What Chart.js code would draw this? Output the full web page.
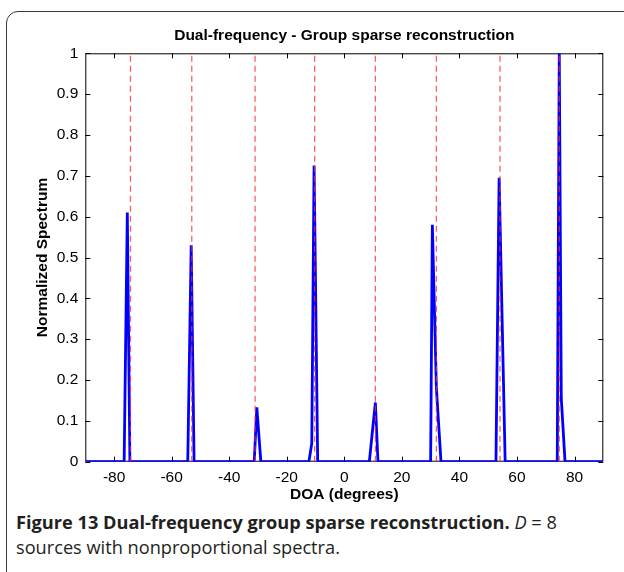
<!DOCTYPE html>
<html>
<head>
<meta charset="utf-8">
<script src="https://cdn.jsdelivr.net/npm/chart.js@4.4.1/dist/chart.umd.min.js"></script>
<style>
  html, body { margin: 0; padding: 0; background: #fff; overflow: hidden; }
  body { width: 624px; height: 572px; position: relative; }
  #frame {
    position: absolute; left: 6px; top: 11px; width: 660px; height: 620px;
    border: 1.5px solid #3a3a3a; border-radius: 12px; box-sizing: border-box;
  }
  #plot { position: absolute; left: 0; top: 0; }
  #caption {
    position: absolute; left: 16px; top: 510px; width: 600px;
    font-family: "Open Sans", "Noto Sans", sans-serif; font-size: 18.2px;
    line-height: 25px; color: #231f20; white-space: nowrap;
  }
</style>
</head>
<body>
<div id="frame"></div>
<canvas id="plot" width="624" height="505"></canvas>
<div id="caption"><b>Figure 13 Dual-frequency group sparse reconstruction.</b> <i>D</i> = 8<br>sources with nonproportional spectra.</div>
<script>
// reconstructed spectrum (DOA in degrees, normalized)
const doa = [-90, -76.5, -75.4, -74.5, -54.4, -53.2, -52.2, -31.3, -30.4, -29,
  -12.3, -11.3, -10.5, -9.25, 8.7, 10.8, 11.7, 30, 30.6, 32, 33.6,
  52.7, 53.8, 55.9, 74, 74.7, 75.4, 76.7, 90];
const spectrum = [0, 0, 0.61, 0, 0, 0.53, 0, 0, 0.133, 0,
  0, 0.045, 0.725, 0, 0, 0.145, 0, 0, 0.58, 0.18, 0,
  0, 0.695, 0, 0, 1, 0.155, 0, 0];

// true source directions
const trueDoa = [-74.3, -53, -31, -10.3, 10.8, 32, 54.1, 74.7];

const xTicks = [-80, -60, -40, -20, 0, 20, 40, 60, 80];

// matlab style box with ticks pointing inwards
const boxPlugin = {
  id: 'box',
  beforeDatasetsDraw(chart) {
    const ctx = chart.ctx;
    const a = chart.chartArea;
    const xs = chart.scales.x;
    const ys = chart.scales.y;
    const len = 5;
    ctx.save();
    ctx.strokeStyle = '#000';
    ctx.lineWidth = 1;
    ctx.beginPath();
    ctx.rect(a.left + 0.5, a.top + 0.5, a.right - a.left - 1, a.bottom - a.top - 1);
    xs.ticks.forEach(t => {
      const px = Math.round(xs.getPixelForValue(t.value)) + 0.5;
      ctx.moveTo(px, a.bottom);
      ctx.lineTo(px, a.bottom - len);
      ctx.moveTo(px, a.top);
      ctx.lineTo(px, a.top + len);
    });
    ys.ticks.forEach(t => {
      const py = Math.round(ys.getPixelForValue(t.value)) + 0.5;
      ctx.moveTo(a.left, py);
      ctx.lineTo(a.left + len, py);
      ctx.moveTo(a.right, py);
      ctx.lineTo(a.right - len, py);
    });
    ctx.stroke();
    ctx.restore();
  }
};

let datasets = [];
trueDoa.forEach(d => {
  datasets.push({
    data: [{x: d, y: 0}, {x: d, y: 1}],
    borderColor: 'rgba(255, 40, 40, 0.75)',
    borderWidth: 1.3,
    borderDash: [6, 4],
    order: 0
  });
});
datasets.push({
  data: doa.map((x, i) => ({x: x, y: spectrum[i]})),
  borderColor: '#0000ff',
  borderWidth: 2.8,
  order: 1
});

const tickFont = {family: '"Liberation Sans", Arial, sans-serif', size: 15.5};
const labelFont = {family: '"Liberation Sans", Arial, sans-serif', size: 15.5, weight: 'bold'};

new Chart(document.getElementById('plot'), {
  type: 'scatter',
  data: {datasets: datasets},
  plugins: [boxPlugin],
  options: {
    responsive: false,
    animation: false,
    showLine: true,
    layout: {padding: {left: 20, right: 20.7, top: 20, bottom: 0}},
    elements: {
      point: {radius: 0, hoverRadius: 0},
      line: {tension: 0, borderJoinStyle: 'miter'}
    },
    plugins: {
      legend: {display: false},
      tooltip: {enabled: false},
      title: {
        display: true,
        fullSize: false,
        text: 'Dual-frequency - Group sparse reconstruction',
        color: '#000',
        font: labelFont,
        padding: {top: 6, bottom: 8.7}
      }
    },
    scales: {
      x: {
        type: 'linear',
        min: -90,
        max: 90,
        afterBuildTicks: scale => {
          scale.ticks = xTicks.map(v => ({value: v}));
        },
        afterFit: scale => { scale.height = 43.3; },
        grid: {display: false, drawTicks: false},
        border: {display: false},
        ticks: {color: '#000', font: tickFont, padding: 7, maxRotation: 0},
        title: {display: true, text: 'DOA (degrees)', color: '#000', font: labelFont, padding: {top: 0, bottom: 1}}
      },
      y: {
        type: 'linear',
        min: 0,
        max: 1,
        afterFit: scale => { scale.width = 65.3; },
        grid: {display: false, drawTicks: false},
        border: {display: false},
        ticks: {
          color: '#000', font: tickFont, padding: 7, stepSize: 0.1,
          callback: v => String(Number(v.toFixed(1)))
        },
        title: {display: true, text: 'Normalized Spectrum', color: '#000', font: labelFont, padding: {top: 13, bottom: 0}}
      }
    }
  }
});
</script>
</body>
</html>
